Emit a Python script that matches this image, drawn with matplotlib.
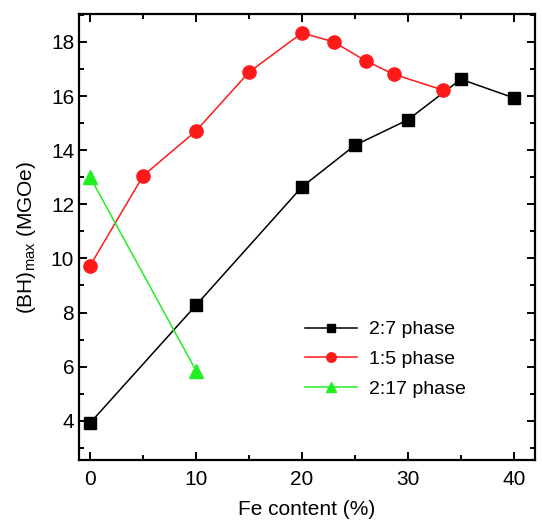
import matplotlib
matplotlib.use("Agg")
import matplotlib.pyplot as plt
from matplotlib.ticker import MultipleLocator

plt.rcParams['font.family'] = ['Liberation Sans', 'DejaVu Sans']

x_27 = [0, 10, 20, 25, 30, 35, 40]
y_27 = [3.92, 8.27, 12.64, 14.18, 15.12, 16.62, 15.93]
x_15 = [0, 5, 10, 15, 20, 23, 26, 28.7, 33.3]
y_15 = [9.73, 13.05, 14.71, 16.88, 18.33, 18.0, 17.3, 16.8, 16.22]
x_217 = [0, 10]
y_217 = [13.0, 5.85]
labels = ["2:7 phase", "1:5 phase", "2:17 phase"]

fig = plt.figure(figsize=(5.42, 5.2), dpi=100)
ax = fig.add_axes([79/542, 60/520, (535-79)/542, (460-14)/520])

ax.plot(x_27, y_27, color='black', marker='s', markersize=8.5, lw=1.1, label=labels[0])
ax.plot(x_15, y_15, color='#ff1a1a', marker='o', markersize=9.5, lw=1.1, label=labels[1])
ax.plot(x_217, y_217, color='#22ee22', marker='^', markersize=9.5, lw=1.1, label=labels[2])

ax.set_xlim(-1.05, 42.0)
ax.set_ylim(2.55, 19.03)
ax.xaxis.set_major_locator(MultipleLocator(10))
ax.xaxis.set_minor_locator(MultipleLocator(5))
ax.yaxis.set_major_locator(MultipleLocator(2))
ax.yaxis.set_minor_locator(MultipleLocator(1))
ax.set_yticks([4, 6, 8, 10, 12, 14, 16, 18])
for s in ax.spines.values():
    s.set_linewidth(1.6)
ax.tick_params(which='both', direction='in', top=True, right=True, width=1.4, labelsize=15)
ax.tick_params(which='major', length=6)
ax.tick_params(which='minor', length=3.5)
ax.tick_params(axis='x', pad=7)

ax.set_xlabel("Fe content (%)", fontsize=15, labelpad=8)
ax.set_ylabel(r"(BH)$_{\mathregular{max}}$ (MGOe)", fontsize=15, labelpad=9)

ax.legend(loc='center left', bbox_to_anchor=(0.478, 0.226), borderaxespad=0,
          frameon=False, fontsize=14, markerscale=0.72,
          handlelength=2.7, handletextpad=0.62, labelspacing=0.62)

fig.savefig("out.png", dpi=100)
